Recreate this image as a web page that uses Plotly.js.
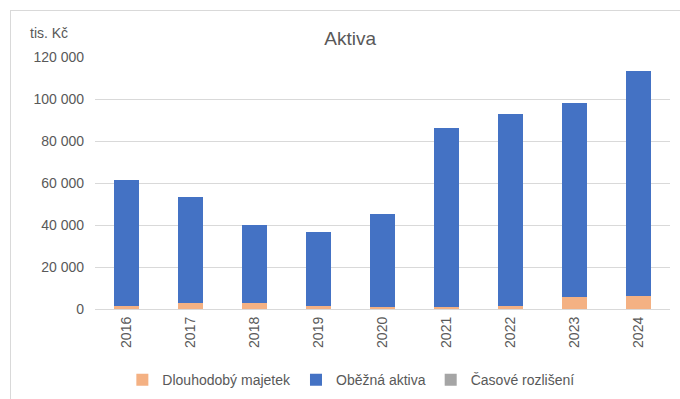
<!DOCTYPE html>
<html>
<head>
<meta charset="utf-8">
<script src="https://cdn.plot.ly/plotly-3.0.1.min.js"></script>
<style>
html,body{margin:0;padding:0;background:#fff;width:680px;height:399px;overflow:hidden;}
#wrap{position:absolute;left:10px;top:10px;width:669px;height:389px;border-left:1px solid #d9d9d9;border-top:1px solid #d9d9d9;}
#chart{width:669px;height:389px;}
</style>
</head>
<body>
<div id="wrap"><div id="chart"></div></div>
<script>
const years = ['2016','2017','2018','2019','2020','2021','2022','2023','2024'];
const dlouhodoby = [1500, 2700, 2700, 1300, 1000, 1000, 1400, 5800, 6200];
const obezna = [59900, 50800, 37300, 35200, 44200, 85000, 91300, 92400, 107100];
const casove = [60, 60, 60, 60, 60, 60, 60, 60, 60];
const seriesNames = ['Dlouhodobý majetek', 'Oběžná aktiva', 'Časové rozlišení'];
const yTicks = [0, 20000, 40000, 60000, 80000, 100000, 120000];
const yTickText = ['0', '20 000', '40 000', '60 000', '80 000', '100 000', '120 000'];

const font = 'Liberation Sans, Arial, sans-serif';
const txt = '#595959';

const traces = [
  {type:'bar', name:seriesNames[0], x:years, y:dlouhodoby, marker:{color:'#F4B183'}},
  {type:'bar', name:seriesNames[1], x:years, y:obezna, marker:{color:'#4472C4'}},
  {type:'bar', name:seriesNames[2], x:years, y:casove, marker:{color:'#A5A5A5'}}
];

const layout = {
  width:669, height:389,
  margin:{l:84, r:10, t:46, b:91},
  barmode:'stack',
  bargap:0.61,
  paper_bgcolor:'#fff', plot_bgcolor:'#fff',
  font:{family:font, color:txt, size:14},
  title:{text:'Aktiva', x:0.507, xref:'container', xanchor:'center', y:0.93, yref:'container', yanchor:'middle', font:{family:font, size:19, color:txt}},
  xaxis:{type:'category', tickangle:-90, tickfont:{size:14, color:txt}, showgrid:false, showline:false, ticks:'', ticklabelstandoff:4},
  yaxis:{range:[0,120000], tickvals:yTicks, ticktext:yTickText, showgrid:true, gridcolor:'#d9d9d9', gridwidth:1,
         zeroline:true, zerolinecolor:'#d9d9d9', zerolinewidth:1, showline:false, ticks:'', ticklabelstandoff:10, tickfont:{size:14, color:txt}},
  legend:{orientation:'h', x:0.508, xref:'container', xanchor:'center', y:0.051, yref:'container', yanchor:'middle',
          font:{size:14, color:txt}, traceorder:'normal'},
  annotations:[{text:'tis. Kč', xref:'paper', yref:'paper', x:-0.1165, y:1.095, xanchor:'left', yanchor:'middle',
                showarrow:false, font:{size:14, color:txt}}]
};

Plotly.newPlot('chart', traces, layout, {displayModeBar:false, staticPlot:true});
</script>
</body>
</html>
